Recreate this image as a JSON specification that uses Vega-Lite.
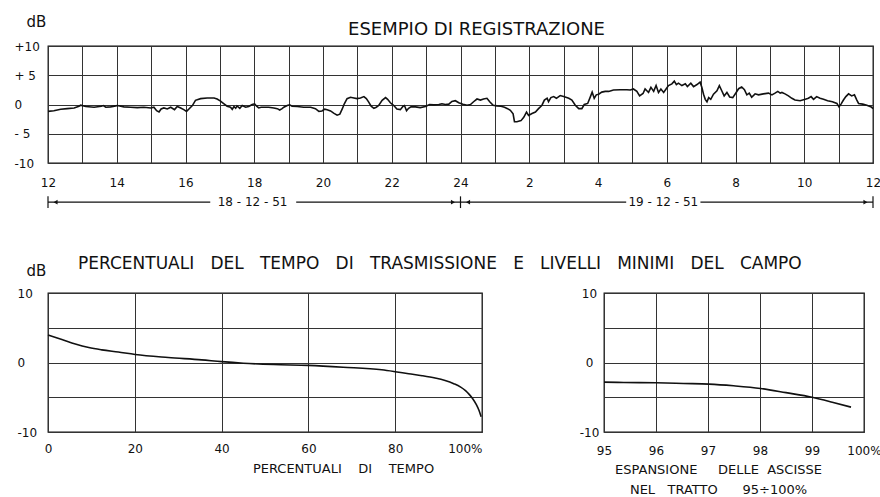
{
  "$schema": "https://vega.github.io/schema/vega-lite/v6.json",
  "background": "white",
  "padding": {"left": 13, "top": 13, "right": 0, "bottom": 0},
  "bounds": "flush",
  "spacing": 130,
  "config": {
    "font": "DejaVu Sans",
    "view": {"stroke": "#111", "strokeWidth": 1.3},
    "axis": {
      "domain": false, "ticks": false, "tickSize": 0, "grid": true,
      "gridColor": "#333", "gridWidth": 1, "gridOpacity": 1,
      "labelFont": "DejaVu Sans", "labelFontSize": 12, "labelColor": "#111",
      "titleFont": "DejaVu Sans", "titleFontWeight": "normal", "titleColor": "#111",
      "labelFlush": false, "labelOverlap": false, "labelBound": false
    },
    "title": {"font": "DejaVu Sans", "fontWeight": "normal", "color": "#111"}
  },
  "datasets": {
    "registrazione": [
      {"ora": 0, "dB": -1.18}, {"ora": 0.17, "dB": -1.06}, {"ora": 0.37, "dB": -0.82}, {"ora": 0.56, "dB": -0.71},
      {"ora": 0.76, "dB": -0.59}, {"ora": 0.9, "dB": -0.29}, {"ora": 0.95, "dB": -0.12}, {"ora": 1.1, "dB": -0.35},
      {"ora": 1.34, "dB": -0.47}, {"ora": 1.55, "dB": -0.29}, {"ora": 1.61, "dB": -0.18}, {"ora": 1.68, "dB": -0.47},
      {"ora": 1.82, "dB": -0.41}, {"ora": 1.97, "dB": -0.24}, {"ora": 2.02, "dB": -0.18}, {"ora": 2.21, "dB": -0.41},
      {"ora": 2.4, "dB": -0.47}, {"ora": 2.6, "dB": -0.53}, {"ora": 2.79, "dB": -0.47}, {"ora": 2.99, "dB": -0.59},
      {"ora": 3.08, "dB": -0.47}, {"ora": 3.16, "dB": -1.06}, {"ora": 3.23, "dB": -1.29}, {"ora": 3.29, "dB": -0.76},
      {"ora": 3.37, "dB": -0.59}, {"ora": 3.47, "dB": -0.76}, {"ora": 3.57, "dB": -0.47}, {"ora": 3.68, "dB": -0.88},
      {"ora": 3.76, "dB": -0.35}, {"ora": 3.86, "dB": -0.59}, {"ora": 3.95, "dB": -0.88}, {"ora": 4.03, "dB": -1.18},
      {"ora": 4.1, "dB": -0.76}, {"ora": 4.2, "dB": -0.18}, {"ora": 4.29, "dB": 0.71}, {"ora": 4.44, "dB": 1.0},
      {"ora": 4.63, "dB": 1.12}, {"ora": 4.83, "dB": 1.12}, {"ora": 4.92, "dB": 0.94}, {"ora": 5.02, "dB": 0.59},
      {"ora": 5.12, "dB": 0.12}, {"ora": 5.21, "dB": -0.29}, {"ora": 5.31, "dB": -0.47}, {"ora": 5.36, "dB": -0.82},
      {"ora": 5.41, "dB": -0.35}, {"ora": 5.46, "dB": -0.65}, {"ora": 5.5, "dB": -0.24}, {"ora": 5.58, "dB": -0.65},
      {"ora": 5.65, "dB": -0.18}, {"ora": 5.75, "dB": -0.47}, {"ora": 5.84, "dB": -0.35}, {"ora": 5.94, "dB": 0.0},
      {"ora": 6.01, "dB": 0.12}, {"ora": 6.07, "dB": -0.29}, {"ora": 6.13, "dB": -0.59}, {"ora": 6.2, "dB": -0.47},
      {"ora": 6.28, "dB": -0.47}, {"ora": 6.42, "dB": -0.47}, {"ora": 6.57, "dB": -0.59}, {"ora": 6.67, "dB": -0.71},
      {"ora": 6.74, "dB": -0.94}, {"ora": 6.81, "dB": -0.71}, {"ora": 6.86, "dB": -0.47}, {"ora": 6.96, "dB": -0.18},
      {"ora": 7.03, "dB": -0.06}, {"ora": 7.1, "dB": -0.29}, {"ora": 7.25, "dB": -0.35}, {"ora": 7.44, "dB": -0.47},
      {"ora": 7.64, "dB": -0.47}, {"ora": 7.78, "dB": -0.71}, {"ora": 7.88, "dB": -1.18}, {"ora": 7.97, "dB": -1.1},
      {"ora": 8.05, "dB": -0.8}, {"ora": 8.12, "dB": -0.9}, {"ora": 8.22, "dB": -1.1}, {"ora": 8.31, "dB": -1.47},
      {"ora": 8.41, "dB": -1.82}, {"ora": 8.49, "dB": -1.65}, {"ora": 8.56, "dB": -0.76}, {"ora": 8.62, "dB": 0.12},
      {"ora": 8.7, "dB": 1.0}, {"ora": 8.8, "dB": 1.24}, {"ora": 8.9, "dB": 1.12}, {"ora": 8.99, "dB": 1.0},
      {"ora": 9.09, "dB": 1.12}, {"ora": 9.19, "dB": 1.35}, {"ora": 9.26, "dB": 1.0}, {"ora": 9.33, "dB": 0.41},
      {"ora": 9.4, "dB": -0.29}, {"ora": 9.48, "dB": -0.65}, {"ora": 9.55, "dB": -0.47}, {"ora": 9.62, "dB": -0.18},
      {"ora": 9.72, "dB": 0.71}, {"ora": 9.82, "dB": 1.18}, {"ora": 9.88, "dB": 0.88}, {"ora": 9.96, "dB": 0.29},
      {"ora": 10.06, "dB": -0.18}, {"ora": 10.15, "dB": -0.76}, {"ora": 10.25, "dB": -0.88}, {"ora": 10.33, "dB": -0.29},
      {"ora": 10.37, "dB": -0.18}, {"ora": 10.43, "dB": -1.06}, {"ora": 10.49, "dB": -0.65}, {"ora": 10.56, "dB": -0.41},
      {"ora": 10.69, "dB": -0.41}, {"ora": 10.83, "dB": -0.53}, {"ora": 10.98, "dB": -0.35}, {"ora": 11.1, "dB": 0.0},
      {"ora": 11.22, "dB": -0.06}, {"ora": 11.37, "dB": 0.0}, {"ora": 11.46, "dB": 0.12}, {"ora": 11.56, "dB": 0.0},
      {"ora": 11.66, "dB": 0.06}, {"ora": 11.75, "dB": 0.53}, {"ora": 11.85, "dB": 0.65}, {"ora": 11.95, "dB": 0.29},
      {"ora": 12.07, "dB": 0.03}, {"ora": 12.19, "dB": -0.12}, {"ora": 12.29, "dB": 0.0}, {"ora": 12.38, "dB": 0.47},
      {"ora": 12.48, "dB": 0.94}, {"ora": 12.58, "dB": 0.76}, {"ora": 12.67, "dB": 0.94}, {"ora": 12.77, "dB": 1.06},
      {"ora": 12.85, "dB": 0.47}, {"ora": 12.95, "dB": -0.12}, {"ora": 13.06, "dB": -0.24}, {"ora": 13.18, "dB": -0.29},
      {"ora": 13.28, "dB": -0.47}, {"ora": 13.37, "dB": -0.71}, {"ora": 13.45, "dB": -1.0}, {"ora": 13.53, "dB": -1.59},
      {"ora": 13.57, "dB": -2.94}, {"ora": 13.64, "dB": -2.94}, {"ora": 13.76, "dB": -2.76}, {"ora": 13.84, "dB": -2.18},
      {"ora": 13.92, "dB": -1.29}, {"ora": 13.98, "dB": -1.88}, {"ora": 14.08, "dB": -1.53}, {"ora": 14.18, "dB": -1.29},
      {"ora": 14.27, "dB": -0.71}, {"ora": 14.37, "dB": -0.12}, {"ora": 14.44, "dB": 0.76}, {"ora": 14.52, "dB": 1.06},
      {"ora": 14.56, "dB": 0.47}, {"ora": 14.63, "dB": 1.18}, {"ora": 14.71, "dB": 1.35}, {"ora": 14.79, "dB": 1.06},
      {"ora": 14.9, "dB": 1.53}, {"ora": 15.0, "dB": 1.35}, {"ora": 15.15, "dB": 1.06}, {"ora": 15.24, "dB": 0.76},
      {"ora": 15.34, "dB": -0.12}, {"ora": 15.44, "dB": -0.71}, {"ora": 15.53, "dB": -0.71}, {"ora": 15.6, "dB": 0.0},
      {"ora": 15.7, "dB": 0.18}, {"ora": 15.78, "dB": 1.35}, {"ora": 15.83, "dB": 2.12}, {"ora": 15.89, "dB": 1.06},
      {"ora": 15.95, "dB": 1.65}, {"ora": 16.02, "dB": 1.76}, {"ora": 16.11, "dB": 2.12}, {"ora": 16.21, "dB": 2.24},
      {"ora": 16.31, "dB": 2.24}, {"ora": 16.45, "dB": 2.47}, {"ora": 16.65, "dB": 2.53}, {"ora": 16.84, "dB": 2.53},
      {"ora": 16.94, "dB": 2.47}, {"ora": 17.03, "dB": 2.65}, {"ora": 17.13, "dB": 2.24}, {"ora": 17.21, "dB": 1.47},
      {"ora": 17.31, "dB": 1.88}, {"ora": 17.37, "dB": 2.65}, {"ora": 17.47, "dB": 2.06}, {"ora": 17.54, "dB": 2.94},
      {"ora": 17.62, "dB": 2.24}, {"ora": 17.69, "dB": 3.24}, {"ora": 17.76, "dB": 2.06}, {"ora": 17.83, "dB": 2.65},
      {"ora": 17.91, "dB": 2.06}, {"ora": 17.98, "dB": 2.65}, {"ora": 18.05, "dB": 3.24}, {"ora": 18.15, "dB": 3.53},
      {"ora": 18.22, "dB": 4.0}, {"ora": 18.28, "dB": 3.41}, {"ora": 18.34, "dB": 3.65}, {"ora": 18.44, "dB": 3.24},
      {"ora": 18.54, "dB": 3.53}, {"ora": 18.6, "dB": 3.06}, {"ora": 18.7, "dB": 3.65}, {"ora": 18.78, "dB": 3.06},
      {"ora": 18.88, "dB": 3.41}, {"ora": 18.97, "dB": 3.82}, {"ora": 19.02, "dB": 2.94}, {"ora": 19.07, "dB": 1.76},
      {"ora": 19.12, "dB": 0.88}, {"ora": 19.17, "dB": 0.47}, {"ora": 19.22, "dB": 1.18}, {"ora": 19.28, "dB": 0.88},
      {"ora": 19.36, "dB": 1.76}, {"ora": 19.46, "dB": 2.35}, {"ora": 19.53, "dB": 3.24}, {"ora": 19.6, "dB": 2.35},
      {"ora": 19.67, "dB": 1.47}, {"ora": 19.75, "dB": 2.06}, {"ora": 19.83, "dB": 1.29}, {"ora": 19.92, "dB": 1.18},
      {"ora": 20.02, "dB": 2.06}, {"ora": 20.09, "dB": 2.7}, {"ora": 20.18, "dB": 3.0}, {"ora": 20.26, "dB": 2.53},
      {"ora": 20.33, "dB": 1.65}, {"ora": 20.4, "dB": 1.94}, {"ora": 20.47, "dB": 1.24}, {"ora": 20.57, "dB": 1.82},
      {"ora": 20.67, "dB": 1.65}, {"ora": 20.81, "dB": 1.82}, {"ora": 20.96, "dB": 1.94}, {"ora": 21.06, "dB": 1.65},
      {"ora": 21.15, "dB": 1.94}, {"ora": 21.23, "dB": 2.24}, {"ora": 21.3, "dB": 1.94}, {"ora": 21.35, "dB": 2.06},
      {"ora": 21.44, "dB": 1.82}, {"ora": 21.54, "dB": 1.47}, {"ora": 21.64, "dB": 1.06}, {"ora": 21.73, "dB": 0.76},
      {"ora": 21.88, "dB": 0.65}, {"ora": 22.03, "dB": 0.88}, {"ora": 22.12, "dB": 1.06}, {"ora": 22.2, "dB": 1.35},
      {"ora": 22.27, "dB": 0.88}, {"ora": 22.36, "dB": 1.35}, {"ora": 22.46, "dB": 1.06}, {"ora": 22.56, "dB": 0.88},
      {"ora": 22.68, "dB": 0.65}, {"ora": 22.82, "dB": 0.47}, {"ora": 22.95, "dB": 0.18}, {"ora": 23.01, "dB": -0.41},
      {"ora": 23.07, "dB": 0.06}, {"ora": 23.14, "dB": 0.76}, {"ora": 23.21, "dB": 1.35}, {"ora": 23.29, "dB": 1.82},
      {"ora": 23.38, "dB": 1.47}, {"ora": 23.46, "dB": 1.65}, {"ora": 23.53, "dB": 0.76}, {"ora": 23.58, "dB": 0.18},
      {"ora": 23.7, "dB": 0.06}, {"ora": 23.82, "dB": -0.12}, {"ora": 23.95, "dB": -0.41}, {"ora": 24, "dB": -0.7}
    ],
    "tratti": [
      {"ora": 0, "fine": 4.72}, {"ora": 7.22, "fine": 12},
      {"ora": 12, "fine": 16.82}, {"ora": 18.98, "fine": 24}
    ],
    "limiti": [{"ora": 0}, {"ora": 12}, {"ora": 24}],
    "frecce": [
      {"ora": 0.22, "verso": "sinistra"}, {"ora": 11.78, "verso": "destra"},
      {"ora": 12.22, "verso": "sinistra"}, {"ora": 23.78, "verso": "destra"}
    ],
    "giorni": [{"ora": 5.95, "giorno": "18 - 12 - 51"}, {"ora": 17.9, "giorno": "19 - 12 - 51"}],
    "tempo": [
      {"percentuale": 0, "dB": 3.95}, {"percentuale": 3.2, "dB": 3.3}, {"percentuale": 6.3, "dB": 2.65},
      {"percentuale": 9.4, "dB": 2.15}, {"percentuale": 12.4, "dB": 1.82}, {"percentuale": 16.2, "dB": 1.5},
      {"percentuale": 20.1, "dB": 1.15}, {"percentuale": 27.7, "dB": 0.72}, {"percentuale": 35.4, "dB": 0.38},
      {"percentuale": 40, "dB": 0.12}, {"percentuale": 45, "dB": -0.1}, {"percentuale": 52, "dB": -0.29},
      {"percentuale": 60, "dB": -0.42}, {"percentuale": 68, "dB": -0.68}, {"percentuale": 76.9, "dB": -1.05},
      {"percentuale": 80, "dB": -1.32}, {"percentuale": 83.1, "dB": -1.62}, {"percentuale": 86.2, "dB": -1.9},
      {"percentuale": 89.2, "dB": -2.24}, {"percentuale": 91.5, "dB": -2.6}, {"percentuale": 93.5, "dB": -3.05},
      {"percentuale": 95, "dB": -3.5}, {"percentuale": 96.2, "dB": -4.05}, {"percentuale": 97.1, "dB": -4.62},
      {"percentuale": 97.9, "dB": -5.24}, {"percentuale": 98.7, "dB": -6.05}, {"percentuale": 99.3, "dB": -6.86},
      {"percentuale": 99.8, "dB": -7.8}
    ],
    "espansione": [
      {"percentuale": 95, "dB": -2.83}, {"percentuale": 95.38, "dB": -2.88}, {"percentuale": 96, "dB": -2.92},
      {"percentuale": 96.53, "dB": -3.02}, {"percentuale": 97.02, "dB": -3.11}, {"percentuale": 97.49, "dB": -3.35},
      {"percentuale": 98.01, "dB": -3.73}, {"percentuale": 98.5, "dB": -4.34}, {"percentuale": 99, "dB": -5.0},
      {"percentuale": 99.39, "dB": -5.71}, {"percentuale": 99.75, "dB": -6.42}
    ]
  },
  "vconcat": [
    {
      "width": 825,
      "height": 117,
      "title": {"text": "ESEMPIO  DI  REGISTRAZIONE", "fontSize": 18, "anchor": "middle", "frame": "group", "dx": 16, "offset": -25},
      "layer": [
        {
          "data": {"name": "registrazione"},
          "mark": {"type": "line", "color": "#111", "strokeWidth": 1.6},
          "encoding": {
            "x": {
              "field": "ora", "type": "quantitative", "title": null,
              "scale": {"domain": [0, 24], "nice": false, "zero": false},
              "axis": {
                "values": [0,1,2,3,4,5,6,7,8,9,10,11,12,13,14,15,16,17,18,19,20,21,22,23,24],
                "title": null, "labelPadding": 14,
                "labelExpr": "datum.value % 2 == 0 ? (datum.value == 12 ? '24' : '' + ((datum.value + 12) % 24)) : ''"
              }
            },
            "y": {
              "field": "dB", "type": "quantitative",
              "scale": {"domain": [-10, 10], "nice": false},
              "axis": {
                "values": [-10, -5, 0, 5, 10],
                "title": "dB", "titleAngle": 0, "titleX": -12, "titleY": -25,
                "titleAlign": "center", "titleBaseline": "middle", "titleFontSize": 15,
                "labelAlign": "left", "labelPadding": 34,
                "labelExpr": "datum.value == 10 ? '+10' : datum.value == 5 ? '+ 5' : datum.value == 0 ? '0' : datum.value == -5 ? '- 5' : '-10'"
              }
            }
          }
        },
        {
          "data": {"name": "tratti"},
          "mark": {"type": "rule", "color": "#111", "strokeWidth": 1.2},
          "encoding": {
            "x": {"field": "ora", "type": "quantitative", "title": null,
              "axis": {"values": [0,1,2,3,4,5,6,7,8,9,10,11,12,13,14,15,16,17,18,19,20,21,22,23,24], "title": null, "labelPadding": 14,
                "labelExpr": "datum.value % 2 == 0 ? (datum.value == 12 ? '24' : '' + ((datum.value + 12) % 24)) : ''"}},
            "x2": {"field": "fine"},
            "y": {"datum": -16.7, "type": "quantitative", "title": null, "scale": {"domain": [-10, 10], "nice": false},
              "axis": {"values": [-10, -5, 0, 5, 10], "title": "dB", "titleAngle": 0, "titleX": -12, "titleY": -25,
                "titleAlign": "center", "titleBaseline": "middle", "titleFontSize": 15, "labelAlign": "left", "labelPadding": 34,
                "labelExpr": "datum.value == 10 ? '+10' : datum.value == 5 ? '+ 5' : datum.value == 0 ? '0' : datum.value == -5 ? '- 5' : '-10'"}}
          }
        },
        {
          "data": {"name": "limiti"},
          "mark": {"type": "rule", "color": "#111", "strokeWidth": 1.2},
          "encoding": {
            "x": {"field": "ora", "type": "quantitative", "title": null,
              "axis": {"values": [0,1,2,3,4,5,6,7,8,9,10,11,12,13,14,15,16,17,18,19,20,21,22,23,24], "title": null, "labelPadding": 14,
                "labelExpr": "datum.value % 2 == 0 ? (datum.value == 12 ? '24' : '' + ((datum.value + 12) % 24)) : ''"}},
            "y": {"datum": -15.7, "type": "quantitative", "title": null, "scale": {"domain": [-10, 10], "nice": false},
              "axis": {"values": [-10, -5, 0, 5, 10], "title": "dB", "titleAngle": 0, "titleX": -12, "titleY": -25,
                "titleAlign": "center", "titleBaseline": "middle", "titleFontSize": 15, "labelAlign": "left", "labelPadding": 34,
                "labelExpr": "datum.value == 10 ? '+10' : datum.value == 5 ? '+ 5' : datum.value == 0 ? '0' : datum.value == -5 ? '- 5' : '-10'"}},
            "y2": {"datum": -17.7}
          }
        },
        {
          "data": {"name": "frecce"},
          "mark": {"type": "point", "filled": true, "color": "#111", "size": 22, "opacity": 1},
          "encoding": {
            "x": {"field": "ora", "type": "quantitative", "title": null,
              "axis": {"values": [0,1,2,3,4,5,6,7,8,9,10,11,12,13,14,15,16,17,18,19,20,21,22,23,24], "title": null, "labelPadding": 14,
                "labelExpr": "datum.value % 2 == 0 ? (datum.value == 12 ? '24' : '' + ((datum.value + 12) % 24)) : ''"}},
            "y": {"datum": -16.7, "type": "quantitative", "title": null, "scale": {"domain": [-10, 10], "nice": false},
              "axis": {"values": [-10, -5, 0, 5, 10], "title": "dB", "titleAngle": 0, "titleX": -12, "titleY": -25,
                "titleAlign": "center", "titleBaseline": "middle", "titleFontSize": 15, "labelAlign": "left", "labelPadding": 34,
                "labelExpr": "datum.value == 10 ? '+10' : datum.value == 5 ? '+ 5' : datum.value == 0 ? '0' : datum.value == -5 ? '- 5' : '-10'"}},
            "shape": {"field": "verso", "type": "nominal", "scale": {"domain": ["sinistra", "destra"], "range": ["triangle-left", "triangle-right"]}, "legend": null}
          }
        },
        {
          "data": {"name": "giorni"},
          "mark": {"type": "text", "color": "#111", "fontSize": 12, "baseline": "middle", "align": "center"},
          "encoding": {
            "x": {"field": "ora", "type": "quantitative", "title": null,
              "axis": {"values": [0,1,2,3,4,5,6,7,8,9,10,11,12,13,14,15,16,17,18,19,20,21,22,23,24], "title": null, "labelPadding": 14,
                "labelExpr": "datum.value % 2 == 0 ? (datum.value == 12 ? '24' : '' + ((datum.value + 12) % 24)) : ''"}},
            "y": {"datum": -16.6, "type": "quantitative", "title": null, "scale": {"domain": [-10, 10], "nice": false},
              "axis": {"values": [-10, -5, 0, 5, 10], "title": "dB", "titleAngle": 0, "titleX": -12, "titleY": -25,
                "titleAlign": "center", "titleBaseline": "middle", "titleFontSize": 15, "labelAlign": "left", "labelPadding": 34,
                "labelExpr": "datum.value == 10 ? '+10' : datum.value == 5 ? '+ 5' : datum.value == 0 ? '0' : datum.value == -5 ? '- 5' : '-10'"}},
            "text": {"field": "giorno"}
          }
        }
      ]
    },
    {
      "bounds": "flush",
      "spacing": 122,
      "hconcat": [
        {
          "width": 434,
          "height": 139,
          "title": {
            "text": "PERCENTUALI\u00a0\u00a0\u00a0DEL\u00a0\u00a0\u00a0TEMPO\u00a0\u00a0\u00a0DI\u00a0\u00a0\u00a0TRASMISSIONE\u00a0\u00a0\u00a0E\u00a0\u00a0\u00a0LIVELLI\u00a0\u00a0\u00a0MINIMI\u00a0\u00a0\u00a0DEL\u00a0\u00a0\u00a0CAMPO",
            "fontSize": 17, "anchor": "start", "frame": "group", "dx": 30, "offset": -10
          },
          "data": {"name": "tempo"},
          "mark": {"type": "line", "color": "#111", "strokeWidth": 1.6, "interpolate": "monotone"},
          "encoding": {
            "x": {
              "field": "percentuale", "type": "quantitative",
              "scale": {"domain": [0, 100], "nice": false},
              "axis": {
                "values": [0, 20, 40, 60, 80, 100],
                "labelExpr": "datum.value == 100 ? '100%' : '' + datum.value",
                "labelAlign": {"condition": {"test": "datum.value == 100", "value": "right"}, "value": "center"},
                "labelPadding": 11,
                "title": "PERCENTUALI\u00a0\u00a0\u00a0\u00a0DI\u00a0\u00a0\u00a0\u00a0TEMPO",
                "titleFontSize": 13, "titleX": 295, "titleY": 36, "titleBaseline": "middle", "titleAlign": "center"
              }
            },
            "y": {
              "field": "dB", "type": "quantitative",
              "scale": {"domain": [-10, 10], "nice": false},
              "axis": {
                "values": [-10, -5, 0, 5, 10],
                "labelExpr": "datum.value == 10 ? '10' : datum.value == 0 ? '0' : datum.value == -10 ? '-10' : ''",
                "labelAlign": "left", "labelPadding": 31,
                "title": "dB", "titleAngle": 0, "titleX": -12, "titleY": -23,
                "titleFontSize": 15, "titleAlign": "center", "titleBaseline": "middle"
              }
            }
          }
        },
        {
          "width": 260,
          "height": 139,
          "data": {"name": "espansione"},
          "mark": {"type": "line", "color": "#111", "strokeWidth": 1.6, "interpolate": "monotone"},
          "encoding": {
            "x": {
              "field": "percentuale", "type": "quantitative",
              "scale": {"domain": [95, 100], "nice": false, "zero": false},
              "axis": {
                "values": [95, 96, 97, 98, 99, 100],
                "labelExpr": "datum.value == 100 ? '100%' : '' + datum.value",
                "labelPadding": 13,
                "title": ["ESPANSIONE\u00a0\u00a0\u00a0\u00a0\u00a0DELLE\u00a0\u00a0ASCISSE", "NEL\u00a0\u00a0\u00a0TRATTO\u00a0\u00a0\u00a0\u00a0\u00a0\u00a095÷100%"],
                "titleFontSize": 13, "titleX": 114, "titleY": 31, "titleBaseline": "top", "titleAlign": "center", "titleLineHeight": 20
              }
            },
            "y": {
              "field": "dB", "type": "quantitative",
              "scale": {"domain": [-10, 10], "nice": false},
              "axis": {
                "values": [-10, -5, 0, 5, 10],
                "labelExpr": "datum.value == 10 ? '10' : datum.value == 0 ? '0' : datum.value == -10 ? '-10' : ''",
                "labelAlign": "center", "labelPadding": 15,
                "title": null
              }
            }
          }
        }
      ]
    }
  ]
}
